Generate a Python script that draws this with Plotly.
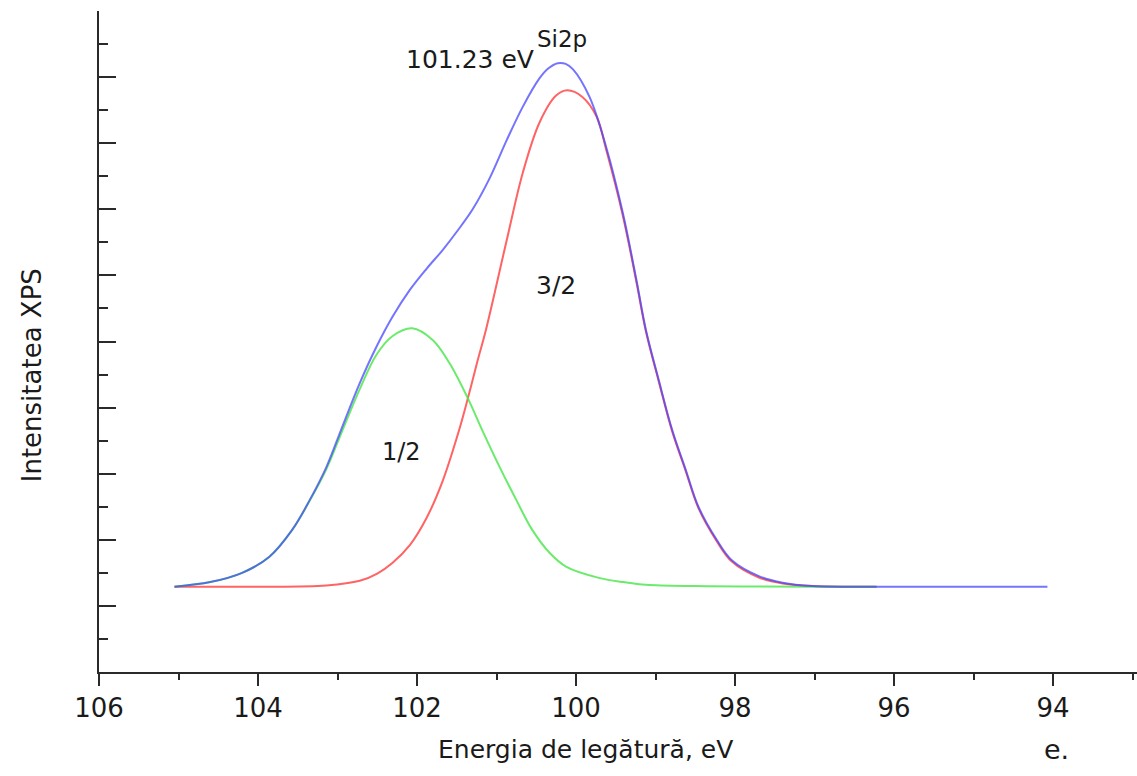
import plotly.graph_objects as go

# ---- data ----
blue_x = [105.05, 104.60, 104.20, 103.86, 103.57, 103.35, 103.14, 102.94, 102.72, 102.51,
          102.31, 102.09, 101.88, 101.68, 101.50, 101.30, 101.09, 100.87, 100.67, 100.46,
          100.35, 100.23, 100.13, 100.04, 99.83, 99.62, 99.41, 99.24, 99.12, 98.96, 98.79, 98.62,
          98.46, 98.23, 98.04, 97.70, 97.40, 97.03, 96.50, 94.07]
blue_y = [1.29, 1.36, 1.50, 1.74, 2.15, 2.60, 3.10, 3.71, 4.37, 4.92,
          5.37, 5.78, 6.10, 6.38, 6.66, 7.00, 7.46, 8.05, 8.55, 8.98,
          9.13, 9.21, 9.20, 9.12, 8.70, 7.94, 6.94, 5.93, 5.17, 4.42, 3.66, 3.06,
          2.50, 2.00, 1.69, 1.45, 1.35, 1.30, 1.29, 1.29]

red_x = [105.05, 104.00, 103.14, 102.72, 102.50, 102.31, 102.09, 101.88, 101.68, 101.47,
         101.36, 101.24, 101.13, 100.87, 100.67, 100.46, 100.25, 100.11, 99.92, 99.74,
         99.62, 99.41, 99.24, 99.12, 98.96, 98.79, 98.62, 98.46, 98.23, 98.04,
         97.70, 97.40, 97.03, 96.22]
red_y = [1.29, 1.29, 1.31, 1.38, 1.49, 1.65, 1.92, 2.33, 2.88, 3.66,
         4.14, 4.70, 5.19, 6.54, 7.55, 8.31, 8.72, 8.80, 8.70, 8.40,
         7.90, 6.90, 5.90, 5.15, 4.40, 3.64, 3.04, 2.48, 1.98, 1.67,
         1.43, 1.34, 1.30, 1.29]

green_x = [105.05, 104.60, 104.20, 103.86, 103.57, 103.35, 103.14, 102.94, 102.72, 102.51,
           102.31, 102.06, 101.80, 101.59, 101.36, 101.18, 100.96, 100.75, 100.55, 100.33,
           100.12, 99.70, 99.40, 99.12, 98.50, 96.22]
green_y = [1.29, 1.36, 1.50, 1.74, 2.15, 2.59, 3.07, 3.65, 4.28, 4.80,
           5.08, 5.20, 5.02, 4.67, 4.14, 3.66, 3.10, 2.60, 2.15, 1.80,
           1.59, 1.42, 1.36, 1.32, 1.30, 1.29]

x_tick_vals = [106, 104, 102, 100, 98, 96, 94]
x_tick_text = ["106", "104", "102", "100", "98", "96", "94"]

FONT = "DejaVu Sans"
TXT = "#1a1a1a"
AX = "#2a2a2a"

fig = go.Figure()
line_style = dict(width=2, shape="spline", smoothing=1.0)
fig.add_trace(go.Scatter(x=red_x, y=red_y, mode="lines", line=dict(color="rgba(255,60,60,0.8)", **line_style)))
fig.add_trace(go.Scatter(x=green_x, y=green_y, mode="lines", line=dict(color="rgba(70,230,70,0.8)", **line_style)))
fig.add_trace(go.Scatter(x=blue_x, y=blue_y, mode="lines", line=dict(color="rgba(70,70,255,0.75)", **line_style)))

fig.update_layout(
    width=1137, height=776,
    margin=dict(l=99, r=0, t=11, b=104),
    paper_bgcolor="white", plot_bgcolor="white",
    showlegend=False,
    font=dict(family=FONT, color=TXT),
    xaxis=dict(range=[106, 106 - 1038 / 79.5], tickmode="array", tickvals=x_tick_vals, ticktext=x_tick_text,
               ticks="outside", ticklen=12, tickwidth=2, tickcolor=AX,
               showline=True, linecolor=AX, linewidth=2, showgrid=False, zeroline=False,
               tickfont=dict(family=FONT, size=26, color=TXT),
               minor=dict(dtick=1, tick0=0, ticks="outside", ticklen=6, tickwidth=2, tickcolor=AX, showgrid=False)),
    yaxis=dict(range=[0, 10], dtick=1, tick0=0, ticks="inside", ticklen=17, tickwidth=2, tickcolor=AX,
               showticklabels=False, showline=True, linecolor=AX, linewidth=2, showgrid=False, zeroline=False,
               minor=dict(dtick=0.5, tick0=0, ticks="inside", ticklen=9, tickwidth=2, tickcolor=AX, showgrid=False)),
)

ann = [
    dict(text="Si2p", x=100.18, y=9.58, xref="x", yref="y", font=dict(size=23)),
    dict(text="101.23 eV", x=101.33, y=9.26, xref="x", yref="y", font=dict(size=25)),
    dict(text="3/2", x=100.25, y=5.85, xref="x", yref="y", font=dict(size=25)),
    dict(text="1/2", x=102.19, y=3.33, xref="x", yref="y", font=dict(size=24)),
    dict(text="Energia de legătură, eV", x=0.469, y=-0.118, xref="paper", yref="paper", font=dict(size=25)),
    dict(text="e.", x=0.922, y=-0.118, xref="paper", yref="paper", font=dict(size=27)),
    dict(text="Intensitatea XPS", x=-0.0645, y=0.449, xref="paper", yref="paper", textangle=-90, font=dict(size=26)),
]
for a in ann:
    fig.add_annotation(showarrow=False, xanchor="center", yanchor="middle", **a)

fig.write_html("out.html")
